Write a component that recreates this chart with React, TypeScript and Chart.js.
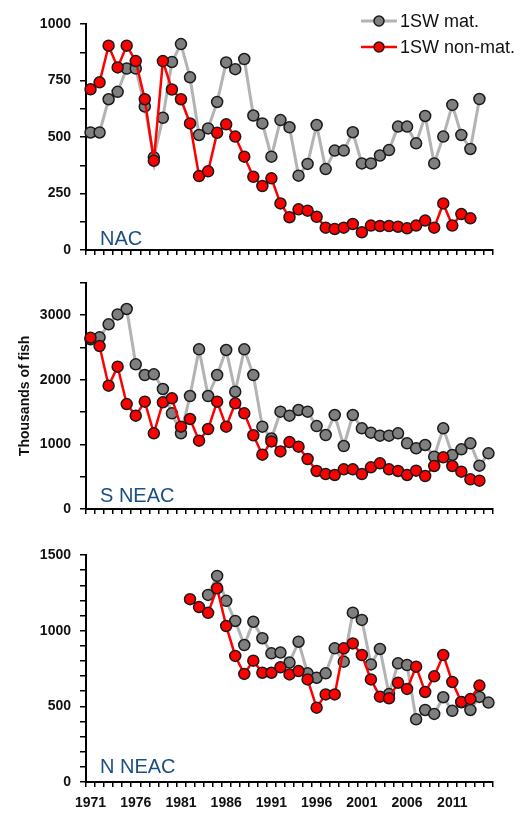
import { useEffect, useRef } from 'react';
import { Chart, registerables } from 'chart.js';
Chart.register(...registerables);

const W = 521;
const H = 813;
const FONT = "'Liberation Sans', Arial, sans-serif";

const years = [
  '1971','1972','1973','1974','1975','1976','1977','1978','1979','1980',
  '1981','1982','1983','1984','1985','1986','1987','1988','1989','1990',
  '1991','1992','1993','1994','1995','1996','1997','1998','1999','2000',
  '2001','2002','2003','2004','2005','2006','2007','2008','2009','2010',
  '2011','2012','2013','2014','2015',
];

const seriesNames = ['1SW mat.', '1SW non-mat.'];

const nacMat = [
  520, 520, 667, 700, 803, 803, 635, 410, 585, 832,
  911, 764, 509, 538, 655, 830, 800, 845, 595, 560,
  413, 575, 543, 329, 381, 553, 358, 440, 440, 521,
  383, 383, 418, 442, 546, 546, 472, 593, 383, 502,
  642, 509, 447, 668, null,
];
const nacNonMat = [
  711, 742, 904, 808, 904, 836, 667, 395, 836, 710,
  667, 560, 327, 348, 519, 556, 502, 413, 324, 283,
  317, 206, 145, 180, 174, 147, 99, 93, 99, 115,
  78, 108, 106, 106, 103, 96, 108, 130, 99, 206,
  108, 159, 140, null, null,
];

const sneacMat = [
  2625, 2655, 2856, 3010, 3093, 2237, 2072, 2083, 1856, 1479,
  1170, 1747, 2469, 1747, 2072, 2459, 1814, 2469, 2072, 1273,
  1090, 1505, 1443, 1531, 1505, 1283, 1144, 1454, 974, 1454,
  1247, 1180, 1134, 1134, 1170, 1015, 938, 990, 809, 1247,
  835, 923, 1015, 670, 861,
];
const sneacNonMat = [
  2649, 2520, 1907, 2201, 1623, 1443, 1660, 1170, 1650, 1711,
  1273, 1392, 1057, 1237, 1660, 1273, 1634, 1479, 1140, 840,
  1045, 890, 1035, 964, 773, 588, 541, 526, 613, 613,
  541, 644, 706, 613, 588, 526, 593, 510, 665, 799,
  665, 577, 459, 438, null,
];

const nneacMat = [
  null, null, null, null, null, null, null, null, null, null,
  null, null, null, 1236, 1362, 1197, 1064, 905, 1059, 950,
  850, 855, 789, 927, 718, 689, 718, 883, 795, 1119,
  1071, 777, 879, 581, 784, 773, 414, 476, 450, 560,
  470, 527, 476, 562, 525,
];
const nneacNonMat = [
  null, null, null, null, null, null, null, null, null, null,
  null, 1208, 1156, 1118, 1280, 1031, 833, 714, 802, 722,
  722, 758, 711, 733, 678, 491, 579, 579, 883, 916,
  839, 678, 564, 553, 656, 615, 762, 595, 698, 839,
  661, 529, 548, 637, null,
];

const panelNames = ['NAC', 'S NEAC', 'N NEAC'];
const yMax = [1000, 3500, 1500];
const yStep = [125, 500, 100];
const yLabelEvery = [250, 1000, 500];

// layout (positions only)
const layouts = [
  { padTop: 24, padBottom: 553, xHeight: 10, labelDy: 5 },
  { padTop: 282.7, padBottom: 294, xHeight: 10, labelDy: 7 },
  { padTop: 555, padBottom: 0, xHeight: 31, labelDy: 9 },
];

const matStyle = { line: '#b3b3b3', fill: '#7f7f7f', lineWidth: 3 };
const nonMatStyle = { line: '#ff0000', fill: '#ff0000', lineWidth: 2.5 };

const annotPlugin = {
  id: 'annot',
  afterDraw(chart: any, _args: any, opts: any) {
    const { ctx, chartArea } = chart;
    ctx.save();
    ctx.font = `20px ${FONT}`;
    ctx.fillStyle = '#1b4f82';
    ctx.textBaseline = 'alphabetic';
    ctx.textAlign = 'left';
    ctx.fillText(opts.text, chartArea.left + 14, chartArea.bottom - opts.dy);
    if (opts.legend) {
      const rows = [21, 47];
      chart.data.datasets.forEach((ds: any, k: number) => {
        const y = rows[k];
        ctx.beginPath();
        ctx.strokeStyle = ds.borderColor;
        ctx.lineWidth = ds.borderWidth;
        ctx.moveTo(361, y);
        ctx.lineTo(397, y);
        ctx.stroke();
        ctx.beginPath();
        ctx.arc(379, y, 5, 0, Math.PI * 2);
        ctx.fillStyle = ds.pointBackgroundColor;
        ctx.fill();
        ctx.lineWidth = 1.5;
        ctx.strokeStyle = '#1a1a1a';
        ctx.stroke();
        ctx.font = `18px ${FONT}`;
        ctx.fillStyle = '#111';
        ctx.textBaseline = 'middle';
        ctx.fillText(ds.label, 400, y + 1);
      });
    }
    ctx.restore();
  },
};

function makeDataset(label: string, data: (number | null)[], st: any, order: number) {
  return {
    label,
    data,
    borderColor: st.line,
    borderWidth: st.lineWidth,
    pointBackgroundColor: st.fill,
    pointBorderColor: '#1a1a1a',
    pointBorderWidth: 1.5,
    pointRadius: 5.5,
    pointHoverRadius: 5.5,
    tension: 0,
    order,
    clip: false as any,
  };
}

const panelData = [
  [nacMat, nacNonMat],
  [sneacMat, sneacNonMat],
  [nneacMat, nneacNonMat],
];

function Panel({ idx }: { idx: number }) {
  const ref = useRef<HTMLCanvasElement>(null);
  useEffect(() => {
    const lay = layouts[idx];
    const [mat, nonMat] = panelData[idx];
    const showX = idx === 2;
    const chart = new Chart(ref.current as HTMLCanvasElement, {
      type: 'line',
      data: {
        labels: years,
        datasets: [
          makeDataset(seriesNames[0], mat, matStyle, 1),
          makeDataset(seriesNames[1], nonMat, nonMatStyle, 0),
        ],
      },
      options: {
        animation: false,
        responsive: false,
        events: [],
        layout: { padding: { top: lay.padTop, bottom: lay.padBottom, left: 0, right: W - 493 } },
        plugins: {
          legend: { display: false },
          tooltip: { enabled: false },
          annot: { text: panelNames[idx], dy: lay.labelDy, legend: idx === 0 },
        } as any,
        scales: {
          x: {
            type: 'category',
            offset: true,
            grid: {
              display: true,
              drawOnChartArea: false,
              drawTicks: true,
              tickLength: 5,
              offset: true,
              color: '#000',
              lineWidth: 1.5,
            },
            border: { display: true, color: '#000', width: 2 },
            ticks: {
              display: showX,
              autoSkip: false,
              maxRotation: 0,
              minRotation: 0,
              padding: 8,
              color: '#111',
              font: { family: FONT, size: 14, weight: 'bold' },
              callback: (_v: any, i: number) => (i % 5 === 0 ? years[i] : ''),
            },
            afterFit: (s: any) => {
              s.height = lay.xHeight;
            },
          },
          y: {
            min: 0,
            max: yMax[idx],
            grid: {
              display: true,
              drawOnChartArea: false,
              drawTicks: true,
              tickLength: 6,
              color: '#000',
              lineWidth: 1.5,
            },
            border: { display: true, color: '#000', width: 2 },
            ticks: {
              stepSize: yStep[idx],
              autoSkip: false,
              padding: 9,
              color: '#111',
              font: { family: FONT, size: 14, weight: 'bold' },
              callback: (v: any) => (Math.round(Number(v)) % yLabelEvery[idx] === 0 ? String(Math.round(Number(v))) : ''),
            },
            title: {
              display: idx === 1,
              text: 'Thousands of fish',
              color: '#111',
              font: { family: FONT, size: 14, weight: 'bold' },
              padding: { top: 16.6, bottom: 0 },
            },
            afterFit: (s: any) => {
              s.width = 86;
            },
          },
        },
      } as any,
      plugins: [annotPlugin],
    });
    return () => chart.destroy();
  }, [idx]);
  return (
    <canvas
      ref={ref}
      width={W}
      height={H}
      style={{ position: 'absolute', left: 0, top: 0, width: W, height: H }}
    />
  );
}

export default function App() {
  return (
    <div style={{ position: 'absolute', left: 0, top: 0, width: W, height: H, background: '#fff' }}>
      <Panel idx={0} />
      <Panel idx={1} />
      <Panel idx={2} />
    </div>
  );
}
